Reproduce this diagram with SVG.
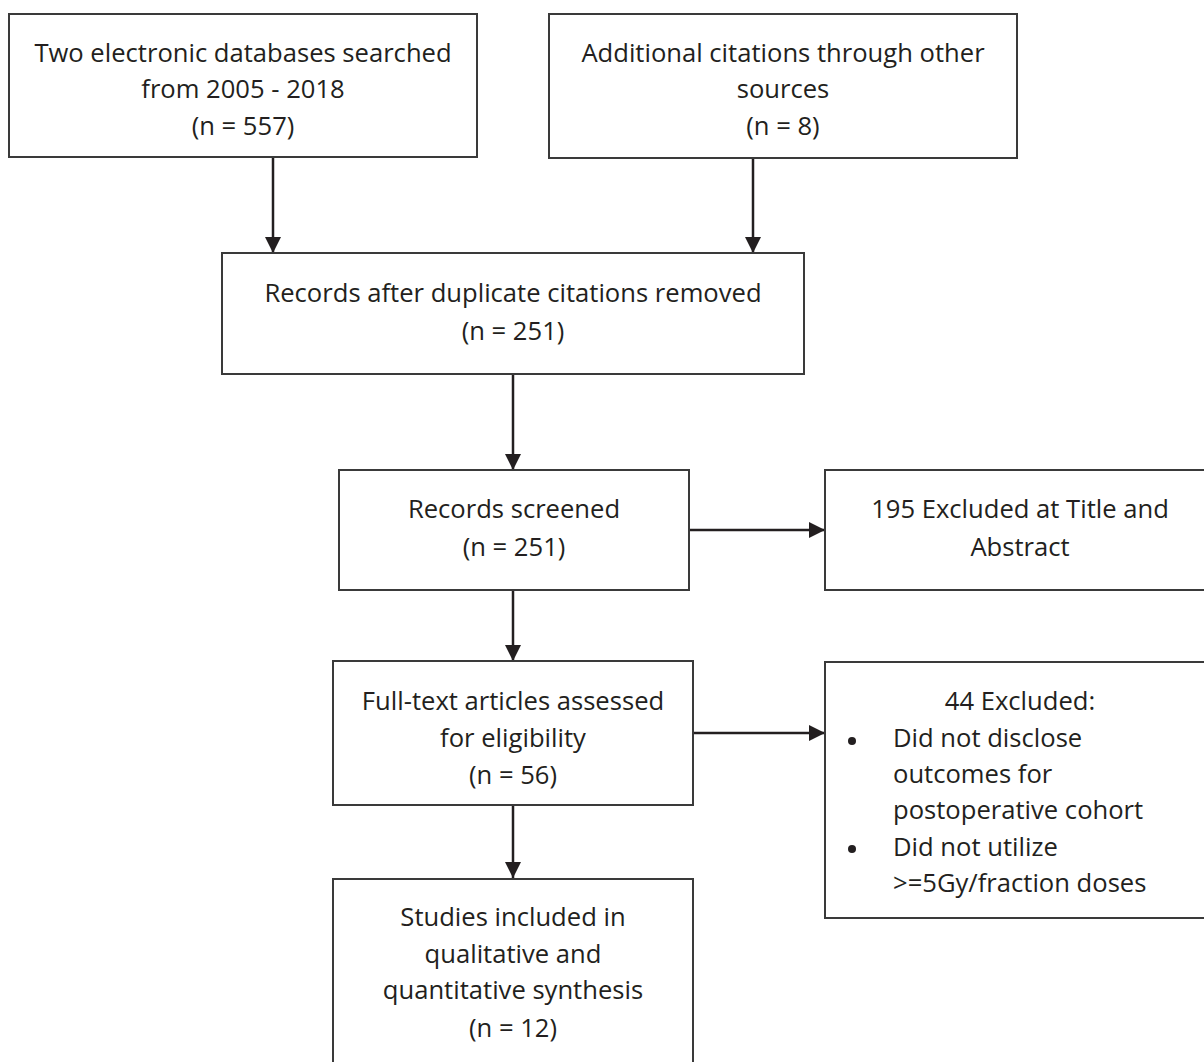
<svg xmlns="http://www.w3.org/2000/svg" width="1204" height="1062" viewBox="0 0 1204 1062">
<style>
.box{fill:#fff;stroke:#3a3a3a;stroke-width:2}
.t{font-family:"Open Sans","Liberation Sans",sans-serif;font-size:25.6px;fill:#231f20;text-anchor:middle}
.l{text-anchor:start}
.c{stroke:#231f20;stroke-width:2.5;fill:none;marker-end:url(#ah)}
</style>
<defs>
<marker id="ah" markerUnits="userSpaceOnUse" markerWidth="18" markerHeight="16" refX="16" refY="8" orient="auto">
<path d="M0,0 L16,8 L0,16 Z" fill="#231f20"/>
</marker>
</defs>
<rect width="1204" height="1062" fill="#fff"/>
<g id="connectors">
<line class="c" x1="273" y1="157" x2="273" y2="253"/>
<line class="c" x1="753" y1="158" x2="753" y2="253"/>
<line class="c" x1="513" y1="374" x2="513" y2="470"/>
<line class="c" x1="689" y1="530" x2="825" y2="530"/>
<line class="c" x1="513" y1="590" x2="513" y2="661"/>
<line class="c" x1="693" y1="733" x2="825" y2="733"/>
<line class="c" x1="513" y1="805" x2="513" y2="878"/>
</g>
<g id="n1">
<rect class="box" x="9" y="14" width="468" height="143"/>
<text class="t" x="243" y="62">Two electronic databases searched</text>
<text class="t" x="243" y="98">from 2005 - 2018</text>
<text class="t" x="243" y="135">(n = 557)</text>
</g>
<g id="n2">
<rect class="box" x="549" y="14" width="468" height="144"/>
<text class="t" x="783" y="62">Additional citations through other</text>
<text class="t" x="783" y="98">sources</text>
<text class="t" x="783" y="135">(n = 8)</text>
</g>
<g id="n3">
<rect class="box" x="222" y="253" width="582" height="121"/>
<text class="t" x="513" y="302">Records after duplicate citations removed</text>
<text class="t" x="513" y="340">(n = 251)</text>
</g>
<g id="n4">
<rect class="box" x="339" y="470" width="350" height="120"/>
<text class="t" x="514" y="518">Records screened</text>
<text class="t" x="514" y="556">(n = 251)</text>
</g>
<g id="n5">
<rect class="box" x="825" y="470" width="390" height="120"/>
<text class="t" x="1020" y="518">195 Excluded at Title and</text>
<text class="t" x="1020" y="556">Abstract</text>
</g>
<g id="n6">
<rect class="box" x="333" y="661" width="360" height="144"/>
<text class="t" x="513" y="710">Full-text articles assessed</text>
<text class="t" x="513" y="747">for eligibility</text>
<text class="t" x="513" y="784">(n = 56)</text>
</g>
<g id="n7">
<rect class="box" x="825" y="662" width="390" height="256"/>
<text class="t" x="1020" y="710">44 Excluded:</text>
<circle cx="852" cy="741" r="4" fill="#231f20"/>
<circle cx="852" cy="849" r="4" fill="#231f20"/>
<text class="t l" x="893" y="747">Did not disclose</text>
<text class="t l" x="893" y="783">outcomes for</text>
<text class="t l" x="893" y="819">postoperative cohort</text>
<text class="t l" x="893" y="856">Did not utilize</text>
<text class="t l" x="893" y="892">&gt;=5Gy/fraction doses</text>
</g>
<g id="n8">
<rect class="box" x="333" y="879" width="360" height="200"/>
<text class="t" x="513" y="926">Studies included in</text>
<text class="t" x="513" y="963">qualitative and</text>
<text class="t" x="513" y="999">quantitative synthesis</text>
<text class="t" x="513" y="1037">(n = 12)</text>
</g>
</svg>
